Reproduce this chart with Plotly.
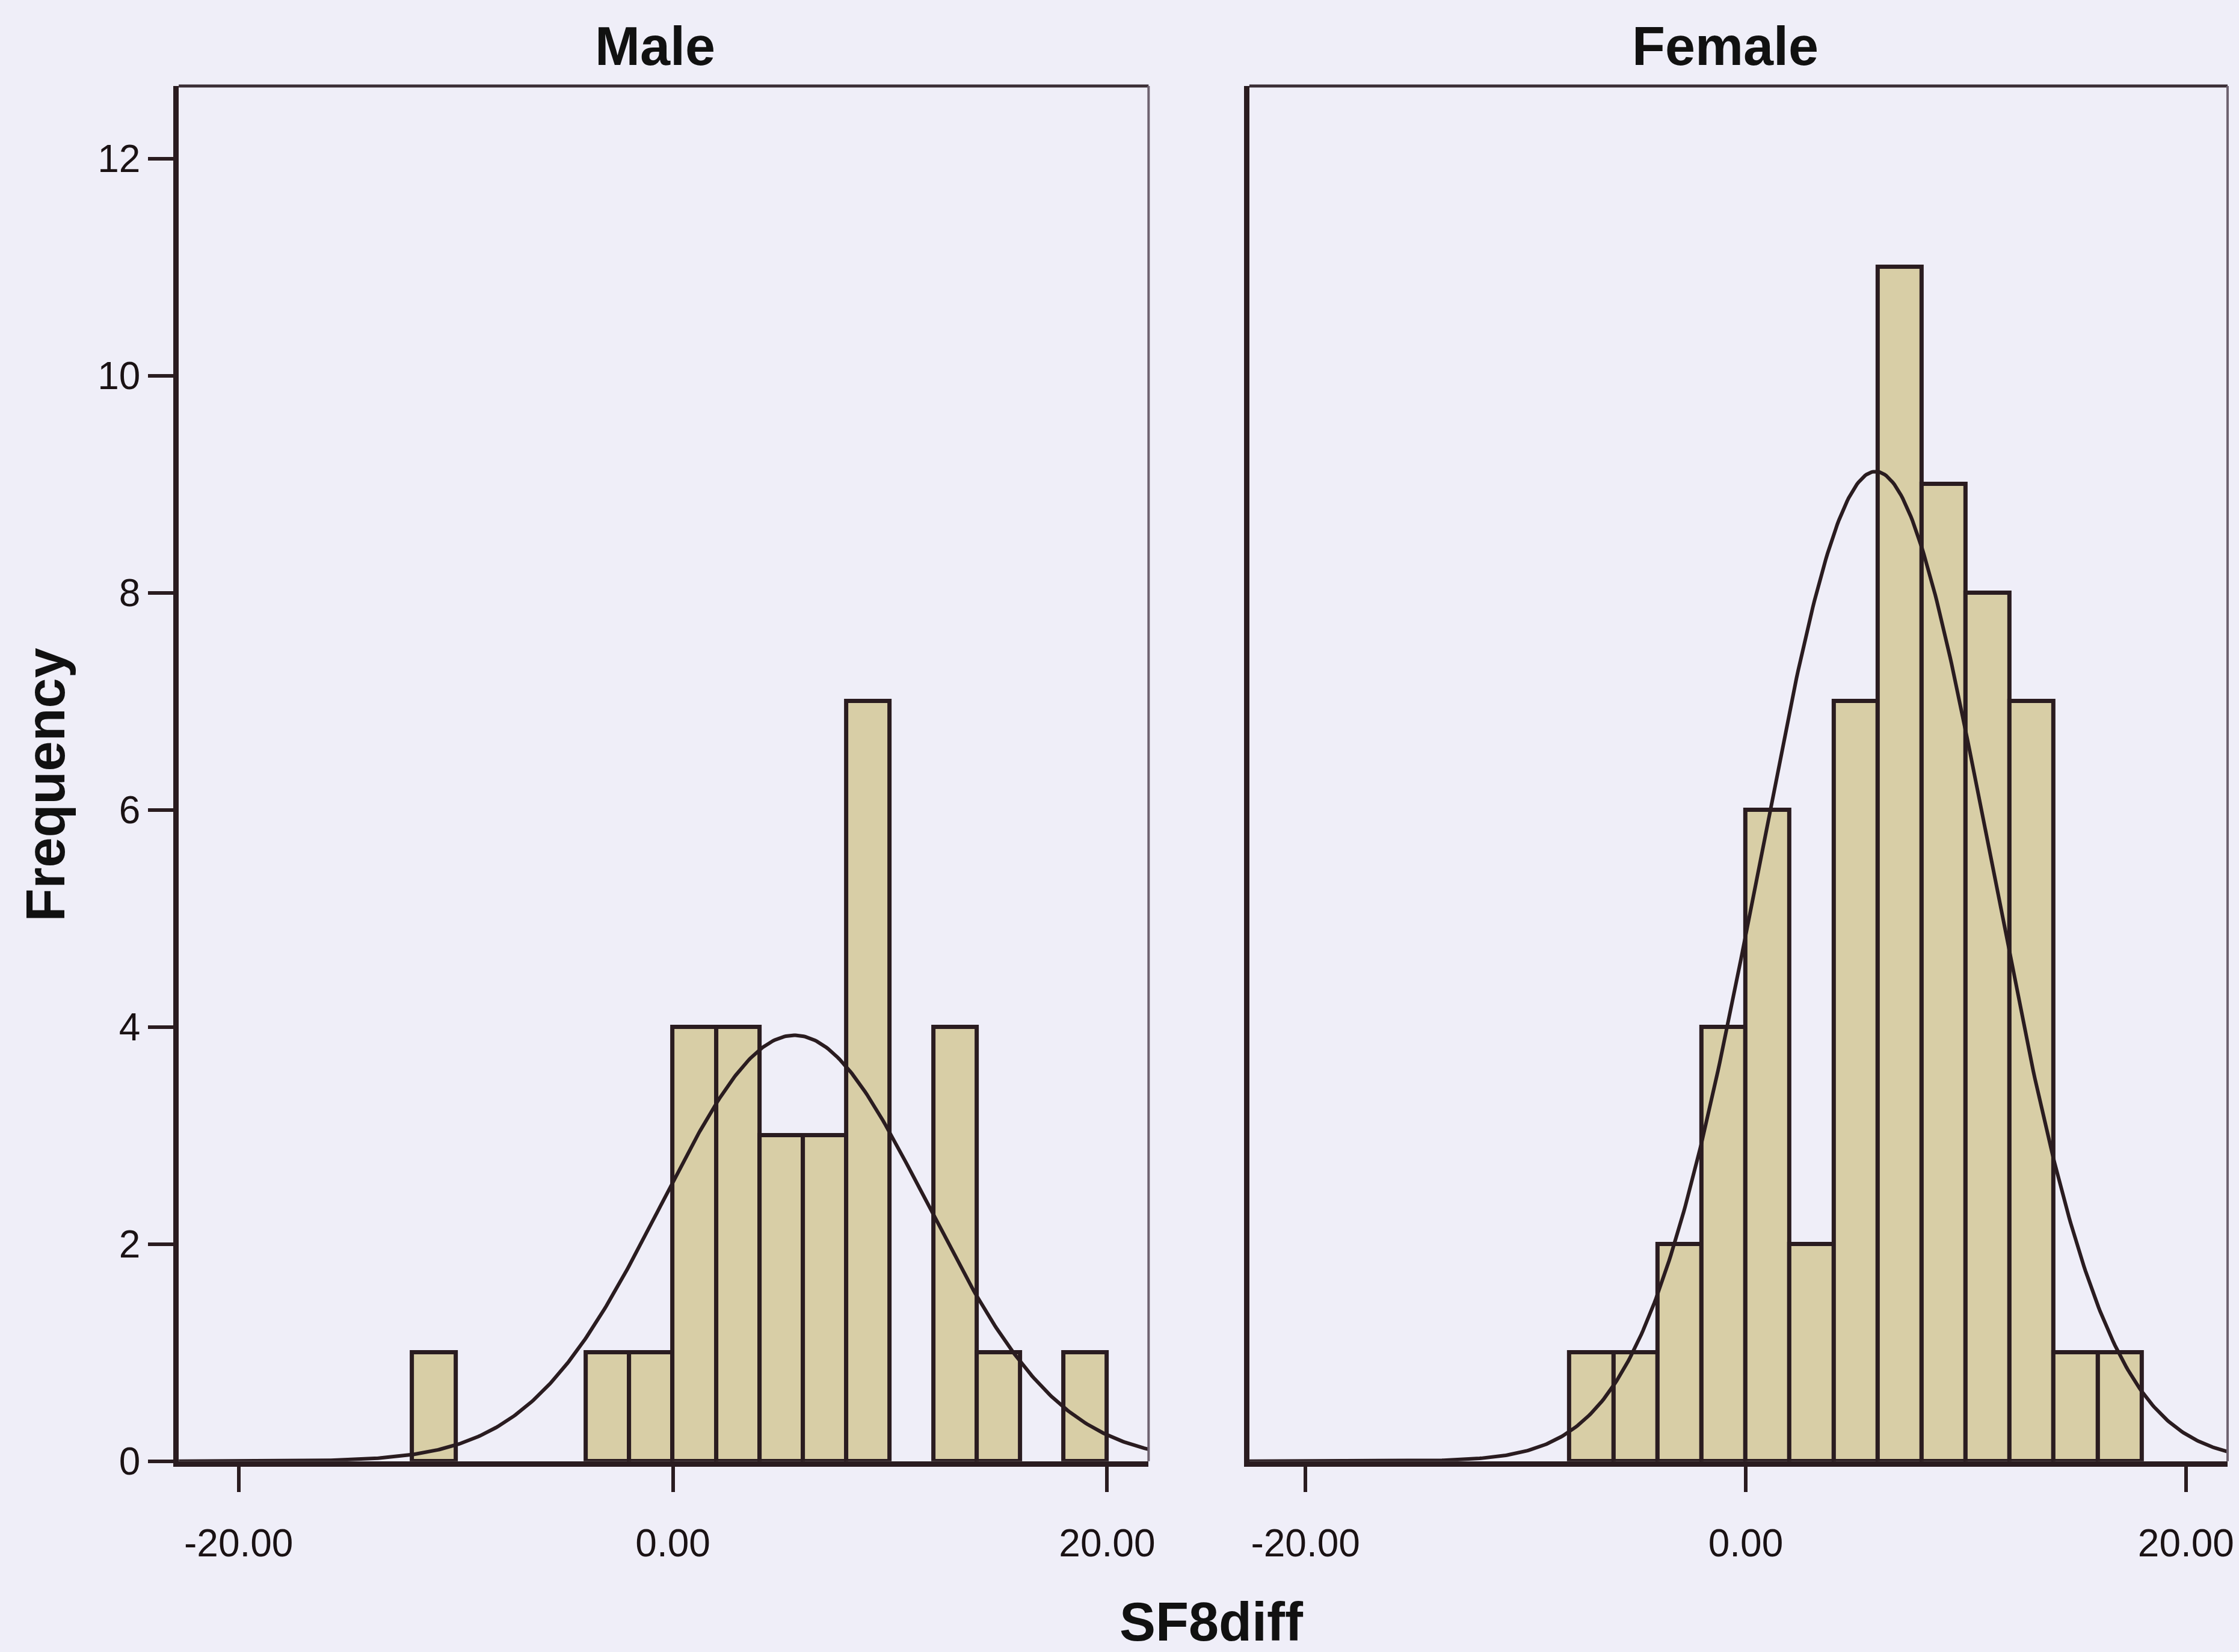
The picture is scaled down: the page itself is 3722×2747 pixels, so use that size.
import numpy as np
import plotly.graph_objects as go

# ---------------- data ----------------
BIN_WIDTH = 2.0
male_bin_starts = [-12, -4, -2, 0, 2, 4, 6, 8, 12, 14, 18]
male_counts = [1, 1, 1, 4, 4, 3, 3, 7, 4, 1, 1]
female_bin_starts = [-8, -6, -4, -2, 0, 2, 4, 6, 8, 10, 12, 14, 16]
female_counts = [1, 1, 2, 4, 6, 2, 7, 11, 9, 8, 7, 1, 1]

# normal-curve parameters (mean, std. dev., N) of each panel
male_mean, male_sd, male_n = 5.6, 6.1, 30
female_mean, female_sd, female_n = 5.9, 5.25, 60

panel_titles = ["Male", "Female"]
x_tick_vals = [-20, 0, 20]
x_tick_text = ["-20.00", "0.00", "20.00"]
y_tick_vals = [0, 2, 4, 6, 8, 10, 12]
y_tick_text = ["0", "2", "4", "6", "8", "10", "12"]
x_title = "SF8diff"
y_title = "Frequency"

# ---------------- styling ----------------
W, H = 3722, 2747
BG = "#EFEEF8"
BAR_FILL = "#D8CEA6"
INK = "#2A1C20"
FONT = "Liberation Sans, Arial, sans-serif"

male_range = [-22.76, 21.91]
female_range = [-22.55, 21.89]
y_range = [0, 12.67]
x_dom_m = [298 / W, 1915 / W]
x_dom_f = [2083 / W, 3714 / W]
y_dom = [1 - 2462 / H, 1 - 145 / H]


def normal_curve(mean, sd, n, rng):
    xs = np.linspace(rng[0], rng[1], 600)
    ys = n * BIN_WIDTH / (sd * np.sqrt(2 * np.pi)) * np.exp(-0.5 * ((xs - mean) / sd) ** 2)
    return xs, ys


fig = go.Figure()

panels = [
    (male_bin_starts, male_counts, male_mean, male_sd, male_n, male_range, "x", "y"),
    (female_bin_starts, female_counts, female_mean, female_sd, female_n, female_range, "x2", "y2"),
]
for starts, counts, mu, sd, n, rng, xa, ya in panels:
    centers = [s + BIN_WIDTH / 2 for s in starts]
    fig.add_trace(go.Bar(
        x=centers, y=counts, width=BIN_WIDTH,
        marker=dict(color=BAR_FILL, line=dict(color=INK, width=7)),
        xaxis=xa, yaxis=ya, showlegend=False, hoverinfo="x+y",
    ))
    cx, cy = normal_curve(mu, sd, n, rng)
    fig.add_trace(go.Scatter(
        x=cx, y=cy, mode="lines", line=dict(color=INK, width=6),
        xaxis=xa, yaxis=ya, showlegend=False, hoverinfo="skip",
    ))

axis_common = dict(
    showline=True, linecolor=INK, linewidth=9,
    ticks="outside", ticklen=42, tickwidth=6, tickcolor=INK,
    showgrid=False, zeroline=False,
    tickfont=dict(family=FONT, size=64, color="#1A1214"),
)

fig.update_layout(
    width=W, height=H,
    margin=dict(l=0, r=0, t=0, b=0),
    paper_bgcolor=BG, plot_bgcolor=BG,
    bargap=0,
    font=dict(family=FONT, color="#1A1214"),
    xaxis=dict(domain=x_dom_m, range=male_range, tickvals=x_tick_vals,
               ticktext=x_tick_text, anchor="y", ticklabelstandoff=30, **axis_common),
    xaxis2=dict(domain=x_dom_f, range=female_range, tickvals=x_tick_vals,
                ticktext=x_tick_text, anchor="y2", ticklabelstandoff=30, **axis_common),
    yaxis=dict(domain=y_dom, range=y_range, tickvals=y_tick_vals,
               ticktext=y_tick_text, anchor="x", **axis_common),
    yaxis2=dict(domain=y_dom, range=y_range, anchor="x2", matches="y",
                showline=True, linecolor=INK, linewidth=9, ticks="",
                showticklabels=False, showgrid=False, zeroline=False),
)

# thinner top / right frame lines of each panel
shapes = []
for xr, yr in [("x domain", "y domain"), ("x2 domain", "y2 domain")]:
    shapes.append(dict(type="line", xref=xr, yref=yr, x0=0, x1=1, y0=1, y1=1,
                       line=dict(color="#3A2E36", width=5)))
    shapes.append(dict(type="line", xref=xr, yref=yr, x0=1, x1=1, y0=0, y1=1,
                       line=dict(color="#6E6270", width=4)))
fig.update_layout(shapes=shapes)

title_font = dict(family=FONT, size=90, color="#111111")
annotations = [
    dict(text="<b>%s</b>" % panel_titles[0], x=1092 / W, y=1 - 78 / H,
         xref="paper", yref="paper", showarrow=False, font=title_font,
         xanchor="center", yanchor="middle"),
    dict(text="<b>%s</b>" % panel_titles[1], x=2877 / W, y=1 - 78 / H,
         xref="paper", yref="paper", showarrow=False, font=title_font,
         xanchor="center", yanchor="middle"),
    dict(text="<b>%s</b>" % y_title, x=76 / W, y=1 - 1322 / H, textangle=-90,
         xref="paper", yref="paper", showarrow=False, font=title_font,
         xanchor="center", yanchor="middle"),
    dict(text="<b>%s</b>" % x_title, x=2020 / W, y=1 - 2733 / H,
         xref="paper", yref="paper", showarrow=False, font=title_font,
         xanchor="center", yanchor="middle"),
]
fig.update_layout(annotations=annotations)

fig.write_html("out.html")
